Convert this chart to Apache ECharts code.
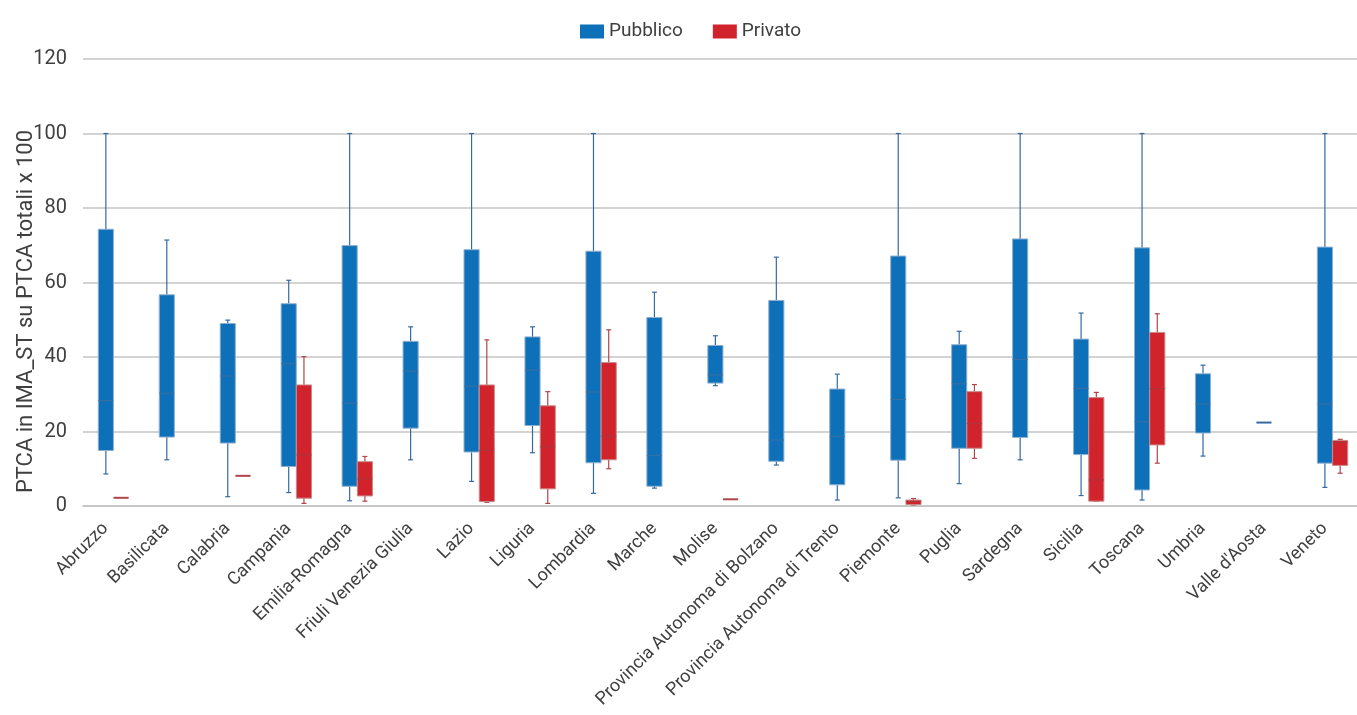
<!DOCTYPE html>
<html>
<head>
<meta charset="utf-8">
<script src="https://cdn.jsdelivr.net/npm/echarts@6/dist/echarts.min.js"></script>
<style>
html,body{margin:0;padding:0;background:#fff;}
#chart{width:1357px;height:715px;}
</style>
</head>
<body>
<div id="chart"></div>
<script>
const categories = ["Abruzzo","Basilicata","Calabria","Campania","Emilia-Romagna","Friuli Venezia Giulia","Lazio","Liguria","Lombardia","Marche","Molise","Provincia Autonoma di Bolzano","Provincia Autonoma di Trento","Piemonte","Puglia","Sardegna","Sicilia","Toscana","Umbria","Valle d'Aosta","Veneto"];
const yTicks = [0, 20, 40, 60, 80, 100, 120];

// Pubblico: min, Q1, median, Q3, max per category
const pubblicoMin    = [8.6, 12.4, 2.5, 3.6, 1.4, 12.4, 6.6, 14.3, 3.4, 4.8, 32.3, 11.0, 1.6, 2.2, 6.0, 12.4, 2.8, 1.6, 13.4, 22.4, 5.0];
const pubblicoQ1     = [14.9, 18.5, 16.9, 10.6, 5.3, 20.9, 14.5, 21.6, 11.6, 5.3, 33.0, 12.0, 5.7, 12.3, 15.5, 18.4, 13.8, 4.3, 19.6, 22.4, 11.5];
const pubblicoMedian = [28.3, 30.3, 34.9, 38.2, 27.6, 36.2, 32.2, 36.5, 30.6, 13.5, 35.2, 17.7, 18.7, 28.6, 32.8, 39.3, 31.6, 22.6, 27.4, 22.4, 27.4];
const pubblicoQ3     = [74.3, 56.7, 49.0, 54.3, 69.9, 44.2, 68.8, 45.4, 68.4, 50.6, 43.1, 55.2, 31.4, 67.1, 43.3, 71.7, 44.8, 69.3, 35.5, 22.4, 69.5];
const pubblicoMax    = [100, 71.4, 49.9, 60.6, 100, 48.1, 100, 48.1, 100, 57.4, 45.7, 66.8, 35.4, 100, 46.9, 100, 51.8, 100, 37.8, 22.4, 100];

// Privato: min, Q1, median, Q3, max per category (null = no data)
const privatoMin    = [2.2, null, 8.1, 0.7, 1.3, null, 1.0, 0.7, 10.0, null, 1.8, null, null, 0.3, 12.8, null, 1.3, 11.5, null, null, 8.8];
const privatoQ1     = [2.2, null, 8.1, 2.1, 2.7, null, 1.2, 4.6, 12.4, null, 1.8, null, null, 0.4, 15.5, null, 1.3, 16.4, null, null, 10.9];
const privatoMedian = [2.2, null, 8.1, 13.7, 7.3, null, 14.9, 15.9, 18.7, null, 1.8, null, null, 1.2, 22.1, null, 7.0, 31.5, null, null, 17.1];
const privatoQ3     = [2.2, null, 8.1, 32.5, 11.9, null, 32.5, 26.9, 38.5, null, 1.8, null, null, 1.6, 30.7, null, 29.1, 46.6, null, null, 17.6];
const privatoMax    = [2.2, null, 8.1, 40.1, 13.3, null, 44.6, 30.7, 47.3, null, 1.8, null, null, 2.0, 32.6, null, 30.5, 51.6, null, null, 17.9];

const FONT = "Roboto, 'Noto Sans', sans-serif";
const TEXT = '#404040';

function buildData(mins, q1s, meds, q3s, maxs) {
  const out = [];
  categories.forEach((c, i) => {
    if (mins[i] == null) return;
    out.push([i, mins[i], q1s[i], meds[i], q3s[i], maxs[i]]);
  });
  return out;
}

function makeRender(side, fill, whisker, median, edge) {
  return function (params, api) {
    const ci = api.value(0);
    const bw = api.size([1, 0])[0];
    const cx = api.coord([ci, 0])[0] + side * bw * 0.125;
    const half = bw * 0.124;
    const capHalf = 2.5;
    const yMin = api.coord([ci, api.value(1)])[1];
    const yQ1 = api.coord([ci, api.value(2)])[1];
    const yMed = api.coord([ci, api.value(3)])[1];
    const yQ3 = api.coord([ci, api.value(4)])[1];
    const yMax = api.coord([ci, api.value(5)])[1];
    const children = [];
    const ws = { stroke: whisker, lineWidth: 1.2 };
    if (Math.abs(yQ1 - yQ3) < 1) {
      children.push({ type: 'line', shape: { x1: cx - half, y1: yQ1, x2: cx + half, y2: yQ1 }, style: { stroke: whisker, lineWidth: 2 } });
      return { type: 'group', children };
    }
    children.push({ type: 'line', shape: { x1: cx, y1: yMax, x2: cx, y2: yQ3 }, style: ws });
    children.push({ type: 'line', shape: { x1: cx, y1: yQ1, x2: cx, y2: yMin }, style: ws });
    children.push({ type: 'line', shape: { x1: cx - capHalf, y1: yMax, x2: cx + capHalf, y2: yMax }, style: ws });
    children.push({ type: 'line', shape: { x1: cx - capHalf, y1: yMin, x2: cx + capHalf, y2: yMin }, style: ws });
    children.push({ type: 'rect', shape: { x: cx - half, y: yQ3, width: half * 2, height: yQ1 - yQ3 }, style: { fill: fill, stroke: edge, lineWidth: 1 } });
    children.push({ type: 'line', shape: { x1: cx - half, y1: yMed, x2: cx + half, y2: yMed }, style: { stroke: median, lineWidth: 1 } });
    return { type: 'group', children };
  };
}

const chart = echarts.init(document.getElementById('chart'), null, { renderer: 'canvas' });
chart.setOption({
  animation: false,
  backgroundColor: '#ffffff',
  textStyle: { fontFamily: FONT },
  legend: {
    top: 17, left: 575,
    icon: 'rect', itemWidth: 24, itemHeight: 14, itemGap: 30,
    textStyle: { fontFamily: FONT, fontSize: 19, color: TEXT },
    data: ['Pubblico', 'Privato']
  },
  grid: { left: 83, width: 1280, top: 59, bottom: 209, containLabel: false, outerBoundsMode: 'none' },
  xAxis: {
    type: 'category',
    data: categories,
    axisLine: { lineStyle: { color: '#c4c4c4', width: 1.5 } },
    axisTick: { show: false },
    axisLabel: { interval: 0, rotate: 45, margin: 12, fontFamily: FONT, fontSize: 18, color: TEXT, padding: [0, 11, 8, 0] },
    splitLine: { show: false }
  },
  yAxis: {
    type: 'value', min: 0, max: 120, interval: 20,
    name: 'PTCA in IMA_ST su PTCA totali x 100',
    nameLocation: 'middle', nameGap: 46, nameRotate: 90, nameMoveOverlap: false,
    nameTextStyle: { fontFamily: FONT, fontSize: 22, color: TEXT, padding: [0, 58, 0, 0] },
    axisLine: { show: false }, axisTick: { show: false },
    axisLabel: { fontFamily: FONT, fontSize: 20, color: TEXT, margin: 16,
      formatter: v => (yTicks.indexOf(v) >= 0 ? String(v) : '') },
    splitLine: { lineStyle: { color: '#c4c4c4', width: 1.5 } }
  },
  series: [
    {
      name: 'Pubblico', type: 'custom',
      itemStyle: { color: '#0e70b9' },
      renderItem: makeRender(-1, '#0e70b9', '#3569a0', '#3d6f9f', '#8fb0cf'),
      encode: { x: 0, y: [1, 2, 3, 4, 5] },
      data: buildData(pubblicoMin, pubblicoQ1, pubblicoMedian, pubblicoQ3, pubblicoMax),
      z: 2
    },
    {
      name: 'Privato', type: 'custom',
      itemStyle: { color: '#d1232b' },
      renderItem: makeRender(1, '#d1232b', '#b04549', '#a63a3e', '#c98a8c'),
      encode: { x: 0, y: [1, 2, 3, 4, 5] },
      data: buildData(privatoMin, privatoQ1, privatoMedian, privatoQ3, privatoMax),
      z: 2
    }
  ]
});
</script>
</body>
</html>
